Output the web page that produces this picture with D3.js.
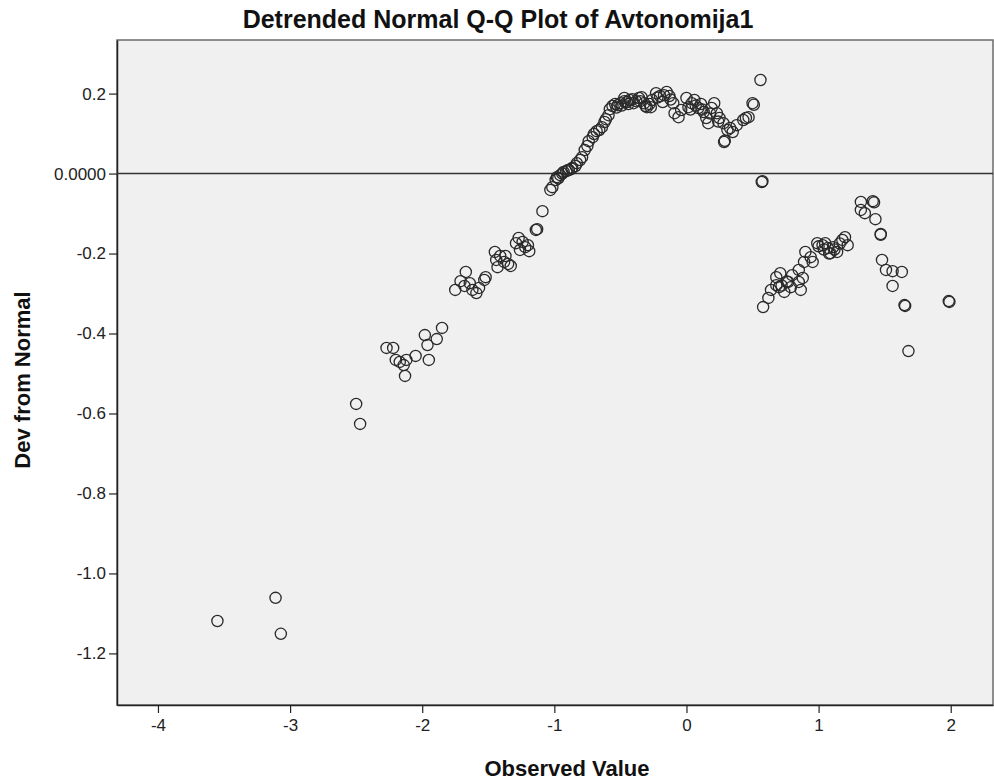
<!DOCTYPE html>
<html>
<head>
<meta charset="utf-8">
<script src="https://cdn.jsdelivr.net/npm/d3@7"></script>
<style>
  body { margin: 0; background: #fff; }
  svg { display: block; font-family: "Liberation Sans", Arial, sans-serif; }
</style>
</head>
<body>
<div id="chart"></div>
<script>
// Detrended normal Q-Q plot

// observed values (x) and deviation from normal (y), point by point
const observed = [
  -3.55, -3.11, -3.07,
  -2.50, -2.47,
  -2.27, -2.22, -2.20, -2.17, -2.14, -2.12, -2.13, -2.05, -1.95, -1.98, -1.96, -1.89, -1.85,
  -1.75, -1.71, -1.67, -1.68, -1.64, -1.62, -1.59, -1.57, -1.52, -1.53,
  -1.45, -1.44, -1.41, -1.38, -1.35, -1.33, -1.43, -1.37,
  -1.29, -1.27, -1.24, -1.22, -1.26, -1.19, -1.20,
  -1.14, -1.13, -1.09,
  -1.03, -1.015, -0.99, -0.98, -0.955, -0.93, -0.91, -0.89, -0.865, -0.84, -0.83, -0.805, -0.79,
  -0.77, -0.75, -0.74, -0.71, -0.70, -0.68, -0.66, -0.64, -0.62, -0.61, -0.59, -0.58, -0.56,
  -0.54, -0.52, -0.50, -0.47, -0.45, -0.43, -0.41, -0.38, -0.36, -0.34, -0.32, -0.30, -0.28,
  -0.26, -0.23, -0.20, -0.18, -0.15, -0.13, -0.10, -0.09, -0.06, -0.04, 0.00, 0.015, 0.04,
  0.06, 0.09, 0.11, 0.13, 0.15, 0.165, 0.19, 0.21, 0.23, 0.25, 0.28, 0.285, 0.29, 0.31, 0.33,
  0.35, 0.38, 0.43, 0.45, 0.47, 0.50, 0.51, 0.56, 0.57, 0.575,
  0.58, 0.62, 0.64, 0.68, 0.70, 0.68, 0.71, 0.74, 0.77, 0.80, 0.79, 0.85, 0.865, 0.88, 0.85,
  0.89, 0.90, 0.955, 0.94, 0.99, 1.03, 1.07, 1.09, 1.11, 1.14, 1.18, 1.20, 1.22, 1.05,
  1.32, 1.41, 1.42, 1.32, 1.35, 1.43, 1.47, 1.47, 1.48, 1.51, 1.56, 1.63, 1.56, 1.65, 1.655,
  1.68, 1.985, 1.99,
  // overlapping points in the dark clusters
  -0.97, -0.94, -0.90, -0.87,
  -0.53, -0.49, -0.47, -0.44, -0.40, -0.35, -0.31, -0.27, -0.22, -0.17, -0.12,
  0.03, 0.07, 0.12, 0.18, 0.24,
  0.72, 0.76, 1.00, 1.04, 1.08, 1.12, 1.16
];

const devFromNormal = [
  -1.119, -1.061, -1.151,
  -0.576, -0.626,
  -0.436, -0.436, -0.466, -0.471, -0.479, -0.466, -0.506, -0.456, -0.466, -0.404, -0.429, -0.414, -0.386,
  -0.291, -0.269, -0.246, -0.281, -0.274, -0.291, -0.299, -0.286, -0.259, -0.266,
  -0.196, -0.216, -0.206, -0.221, -0.226, -0.231, -0.234, -0.206,
  -0.174, -0.161, -0.171, -0.184, -0.191, -0.194, -0.179,
  -0.141, -0.139, -0.094,
  -0.041, -0.034, -0.016, -0.009, -0.004, 0.004, 0.006, 0.009, 0.014, 0.019, 0.026, 0.034, 0.041,
  0.059, 0.069, 0.081, 0.091, 0.099, 0.106, 0.109, 0.116, 0.129, 0.136, 0.146, 0.161, 0.169,
  0.174, 0.171, 0.176, 0.181, 0.179, 0.184, 0.186, 0.181, 0.189, 0.191, 0.176, 0.166, 0.174,
  0.184, 0.201, 0.194, 0.179, 0.204, 0.194, 0.176, 0.151, 0.141, 0.159, 0.189, 0.166, 0.176,
  0.184, 0.164, 0.174, 0.154, 0.139, 0.126, 0.164, 0.176, 0.151, 0.139, 0.126, 0.079, 0.082, 0.109, 0.114,
  0.104, 0.121, 0.134, 0.139, 0.141, 0.176, 0.172, 0.234, -0.021, -0.019,
  -0.334, -0.311, -0.291, -0.279, -0.284, -0.259, -0.249, -0.296, -0.271, -0.254, -0.284, -0.271, -0.291, -0.261, -0.241,
  -0.221, -0.196, -0.221, -0.209, -0.174, -0.179, -0.186, -0.199, -0.184, -0.196, -0.166, -0.159, -0.179, -0.174,
  -0.071, -0.069, -0.072, -0.091, -0.099, -0.114, -0.151, -0.153, -0.216, -0.241, -0.244, -0.246, -0.281, -0.329, -0.331,
  -0.444, -0.319, -0.321,
  // overlapping points in the dark clusters
  -0.012, 0.000, 0.008, 0.012,
  0.165, 0.170, 0.189, 0.174, 0.176, 0.181, 0.169, 0.166, 0.190, 0.196, 0.185,
  0.160, 0.170, 0.160, 0.150, 0.130,
  -0.280, -0.270, -0.182, -0.190, -0.200, -0.190, -0.175
];

const xTicks = [-4, -3, -2, -1, 0, 1, 2];
const yTicks = [0.2, 0.0, -0.2, -0.4, -0.6, -0.8, -1.0, -1.2];

const points = observed.map((v, i) => ({ x: v, y: devFromNormal[i] }));

// SPSS prints a plain hyphen, d3 gives a real minus sign
function hyphen(s) {
  return s.replace("\u2212", "-");
}

function drawChart() {
  const width = 994;
  const height = 784;
  const margin = { top: 40, right: 1, bottom: 79, left: 117 };

  const svg = d3.select("#chart")
    .append("svg")
    .attr("width", width)
    .attr("height", height);

  const x = d3.scaleLinear()
    .domain([-4.31, 2.32])
    .range([margin.left, width - margin.right]);

  const y = d3.scaleLinear()
    .domain([-1.329, 0.334])
    .range([height - margin.bottom, margin.top]);

  // plot background
  svg.append("rect")
    .attr("x", margin.left)
    .attr("y", margin.top)
    .attr("width", width - margin.right - margin.left)
    .attr("height", height - margin.bottom - margin.top)
    .attr("fill", "#f0f0f0")
    .attr("stroke", "#6b6b6b")
    .attr("stroke-width", 1.5);

  // axes
  const xAxis = d3.axisBottom(x)
    .tickValues(xTicks)
    .tickFormat(d => hyphen(d3.format("d")(d)))
    .tickSizeOuter(0)
    .tickSizeInner(8)
    .tickPadding(6);

  const yAxis = d3.axisLeft(y)
    .tickValues(yTicks)
    .tickFormat(d => d === 0 ? "0.0000" : hyphen(d3.format(".1f")(d)))
    .tickSizeOuter(0)
    .tickSizeInner(8)
    .tickPadding(3);

  const gx = svg.append("g")
    .attr("transform", `translate(0,${height - margin.bottom})`)
    .call(xAxis);

  const gy = svg.append("g")
    .attr("transform", `translate(${margin.left},0)`)
    .call(yAxis);

  [gx, gy].forEach(g => {
    g.select(".domain").attr("stroke", "#222").attr("stroke-width", 1.5);
    g.selectAll(".tick line").attr("stroke", "#222").attr("stroke-width", 1.2);
    g.selectAll(".tick text")
      .attr("fill", "#222")
      .style("font-size", "17px")
      .style("font-family", "Liberation Sans, Arial, sans-serif");
  });

  // reference line at zero
  svg.append("line")
    .attr("x1", x.range()[0])
    .attr("x2", x.range()[1])
    .attr("y1", y(0))
    .attr("y2", y(0))
    .attr("stroke", "#333")
    .attr("stroke-width", 1.6);

  // points
  svg.append("g")
    .selectAll("circle")
    .data(points)
    .join("circle")
      .attr("cx", d => x(d.x))
      .attr("cy", d => y(d.y))
      .attr("r", 5.6)
      .attr("fill", "none")
      .attr("stroke", "#2a2a2a")
      .attr("stroke-width", 1.3);

  // title
  svg.append("text")
    .attr("x", 498)
    .attr("y", 28)
    .attr("text-anchor", "middle")
    .style("font-size", "25px")
    .style("font-weight", "bold")
    .attr("fill", "#111")
    .text("Detrended Normal Q-Q Plot of Avtonomija1");

  // x label
  svg.append("text")
    .attr("x", 567)
    .attr("y", 776)
    .attr("text-anchor", "middle")
    .style("font-size", "22px")
    .style("font-weight", "bold")
    .attr("fill", "#111")
    .text("Observed Value");

  // y label, rotated
  svg.append("text")
    .attr("transform", "translate(30,380) rotate(-90)")
    .attr("text-anchor", "middle")
    .style("font-size", "22px")
    .style("font-weight", "bold")
    .attr("fill", "#111")
    .text("Dev from Normal");
}

window.onload = () => {
  drawChart();
};
</script>
</body>
</html>
